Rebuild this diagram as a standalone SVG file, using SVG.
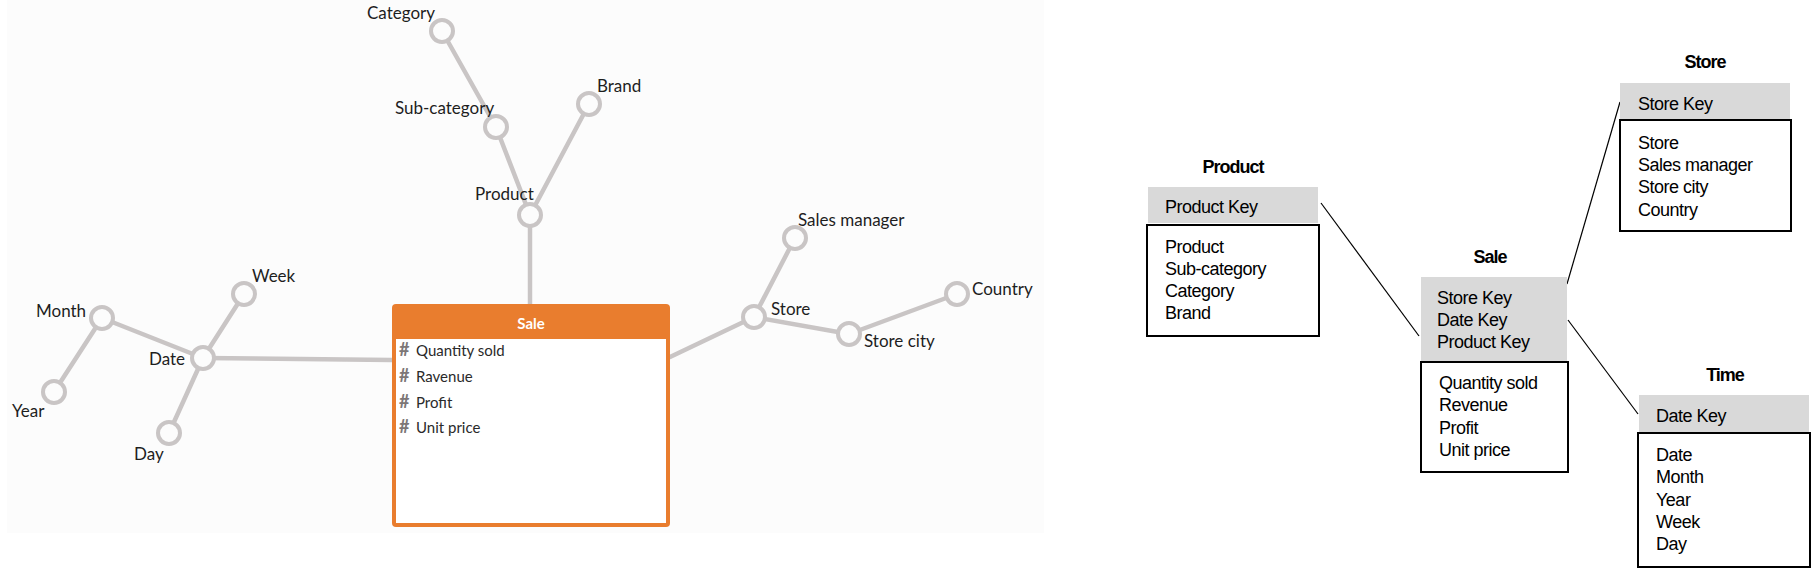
<svg xmlns="http://www.w3.org/2000/svg" width="1815" height="570" viewBox="0 0 1815 570">
<style>
.bg{fill:#fcfcfc}
.edge{stroke:#c9c5c5;stroke-width:4.5;fill:none;stroke-linecap:round}
.dot{fill:#fcfcfc;stroke:#c9c5c5;stroke-width:4}
.lbl{font-family:Lato,"Open Sans",sans-serif;font-size:17px;fill:#1e1e1e}
.attr{font-family:Lato,"Open Sans",sans-serif;font-size:15px;fill:#2a2a2a}
.hash{font-family:Lato,"Open Sans",sans-serif;font-size:18px;font-weight:bold;fill:#7d7777}
.ttl{font-family:Lato,"Open Sans",sans-serif;font-size:15px;font-weight:bold;fill:#ffffff}
.rel{stroke:#000;stroke-width:1.2;fill:none}
.key{fill:#d9d9d9}
.box{fill:#fff;stroke:#000;stroke-width:2}
.t{font-family:"Liberation Sans",Arial,sans-serif;font-size:18px;letter-spacing:-0.5px;fill:#000}
.h{font-family:"Liberation Sans",Arial,sans-serif;font-size:18px;font-weight:bold;letter-spacing:-1px;fill:#000;text-anchor:middle}
</style>
<rect class="bg" x="7" y="0" width="1037" height="533"/>
<g id="connectors">
<line class="edge" x1="442" y1="31" x2="496" y2="127"/>
<line class="edge" x1="496" y1="127" x2="530" y2="215"/>
<line class="edge" x1="589" y1="104" x2="530" y2="215"/>
<line class="edge" x1="530" y1="215" x2="530" y2="304"/>
<line class="edge" x1="244" y1="294" x2="203" y2="358"/>
<line class="edge" x1="102" y1="318" x2="203" y2="358"/>
<line class="edge" x1="102" y1="318" x2="54" y2="392"/>
<line class="edge" x1="169" y1="433" x2="203" y2="358"/>
<line class="edge" x1="203" y1="358" x2="392" y2="360"/>
<line class="edge" x1="670" y1="357" x2="754" y2="317"/>
<line class="edge" x1="754" y1="317" x2="795" y2="238"/>
<line class="edge" x1="754" y1="317" x2="849" y2="334"/>
<line class="edge" x1="849" y1="334" x2="957" y2="294"/>
<line class="rel" x1="1321" y1="203" x2="1419" y2="336"/>
<line class="rel" x1="1567" y1="284" x2="1620" y2="102"/>
<line class="rel" x1="1568" y1="320" x2="1638" y2="414"/>
</g>
<g id="n-category"><circle class="dot" cx="442" cy="31" r="11"/><text class="lbl" x="367" y="19">Category</text></g>
<g id="n-subcategory"><circle class="dot" cx="496" cy="127" r="11"/><text class="lbl" x="395" y="114">Sub-category</text></g>
<g id="n-brand"><circle class="dot" cx="589" cy="104" r="11"/><text class="lbl" x="597" y="92">Brand</text></g>
<g id="n-product"><circle class="dot" cx="530" cy="215" r="11"/><text class="lbl" x="475" y="200">Product</text></g>
<g id="n-week"><circle class="dot" cx="244" cy="294" r="11"/><text class="lbl" x="252" y="282">Week</text></g>
<g id="n-month"><circle class="dot" cx="102" cy="318" r="11"/><text class="lbl" x="36" y="317">Month</text></g>
<g id="n-date"><circle class="dot" cx="203" cy="358" r="11"/><text class="lbl" x="149" y="365">Date</text></g>
<g id="n-year"><circle class="dot" cx="54" cy="392" r="11"/><text class="lbl" x="12" y="417">Year</text></g>
<g id="n-day"><circle class="dot" cx="169" cy="433" r="11"/><text class="lbl" x="134" y="460">Day</text></g>
<g id="n-salesmanager"><circle class="dot" cx="795" cy="238" r="11"/><text class="lbl" x="798" y="226">Sales manager</text></g>
<g id="n-store"><circle class="dot" cx="754" cy="317" r="11"/><text class="lbl" x="771" y="315">Store</text></g>
<g id="n-storecity"><circle class="dot" cx="849" cy="334" r="11"/><text class="lbl" x="864" y="347">Store city</text></g>
<g id="n-country"><circle class="dot" cx="957" cy="294" r="11"/><text class="lbl" x="972" y="295">Country</text></g>
<g id="n-sale">
<rect x="392" y="304" width="278" height="223" rx="4" fill="#e97d2e"/>
<rect x="396" y="339" width="270" height="184" fill="#ffffff"/>
<text class="ttl" x="531" y="329" text-anchor="middle">Sale</text>
<text class="hash" x="399" y="356">#</text><text class="attr" x="416" y="356">Quantity sold</text>
<text class="hash" x="399" y="382">#</text><text class="attr" x="416" y="382">Ravenue</text>
<text class="hash" x="399" y="408">#</text><text class="attr" x="416" y="408">Profit</text>
<text class="hash" x="399" y="433">#</text><text class="attr" x="416" y="433">Unit price</text>
</g>
<g id="t-product">
<text class="h" x="1233" y="173">Product</text>
<rect class="key" x="1148" y="187" width="170" height="36"/>
<text class="t" x="1165" y="213">Product Key</text>
<rect class="box" x="1147" y="225" width="172" height="111"/>
<text class="t" x="1165" y="253">Product</text>
<text class="t" x="1165" y="275">Sub-category</text>
<text class="t" x="1165" y="297">Category</text>
<text class="t" x="1165" y="319">Brand</text>
</g>
<g id="t-sale">
<text class="h" x="1490" y="263">Sale</text>
<rect class="key" x="1421" y="277" width="146" height="84"/>
<text class="t" x="1437" y="304">Store Key</text>
<text class="t" x="1437" y="326">Date Key</text>
<text class="t" x="1437" y="348">Product Key</text>
<rect class="box" x="1421" y="362" width="147" height="110"/>
<text class="t" x="1439" y="389">Quantity sold</text>
<text class="t" x="1439" y="411">Revenue</text>
<text class="t" x="1439" y="434">Profit</text>
<text class="t" x="1439" y="456">Unit price</text>
</g>
<g id="t-store">
<text class="h" x="1705" y="68">Store</text>
<rect class="key" x="1620" y="83" width="170" height="36"/>
<text class="t" x="1638" y="110">Store Key</text>
<rect class="box" x="1620" y="120" width="171" height="111"/>
<text class="t" x="1638" y="149">Store</text>
<text class="t" x="1638" y="171">Sales manager</text>
<text class="t" x="1638" y="193">Store city</text>
<text class="t" x="1638" y="216">Country</text>
</g>
<g id="t-time">
<text class="h" x="1725" y="381">Time</text>
<rect class="key" x="1639" y="395" width="170" height="37"/>
<text class="t" x="1656" y="422">Date Key</text>
<rect class="box" x="1638" y="433" width="172" height="134"/>
<text class="t" x="1656" y="461">Date</text>
<text class="t" x="1656" y="483">Month</text>
<text class="t" x="1656" y="506">Year</text>
<text class="t" x="1656" y="528">Week</text>
<text class="t" x="1656" y="550">Day</text>
</g>
</svg>
